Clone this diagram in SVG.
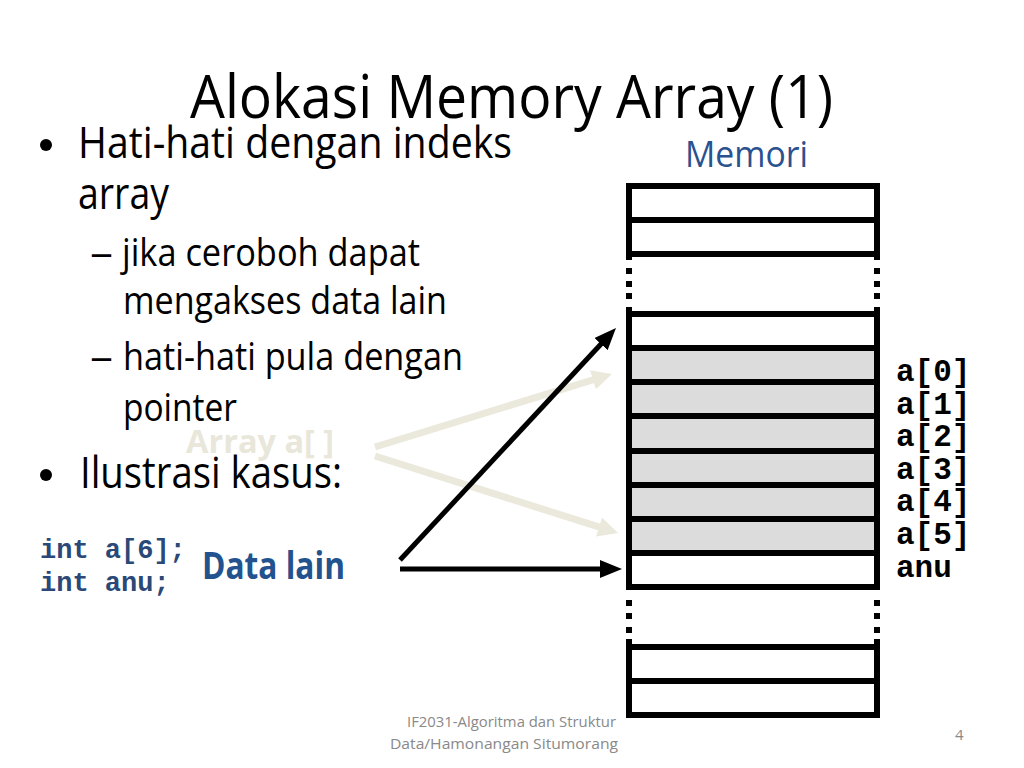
<svg xmlns="http://www.w3.org/2000/svg" width="1024" height="768" viewBox="0 0 1024 768">
<style>
.sans{font-family:"Open Sans","Noto Sans","Liberation Sans",sans-serif;}
.mono{font-family:"Liberation Mono","DejaVu Sans Mono",monospace;font-weight:bold;}
.body{font-size:43px;fill:#000;}
.sub{font-size:38px;fill:#000;}
.lbl{font-size:31px;fill:#000;}
.code{font-size:27px;fill:#2a4878;}
.foot{font-size:15px;fill:#898989;}
.hl{stroke:#000;stroke-width:6;fill:none;}
.vb{fill:#000;}
.cell{fill:#dcdcdc;}
</style>
<defs>
<marker id="ahB" markerUnits="userSpaceOnUse" markerWidth="22" markerHeight="18" refX="10" refY="9" orient="auto" viewBox="0 0 22 18"><path d="M0,0 L22,9 L0,18 z" fill="#000"/></marker>
<marker id="ahL" markerUnits="userSpaceOnUse" markerWidth="20" markerHeight="20" refX="8" refY="10" orient="auto" viewBox="0 0 20 20"><path d="M0,0 L20,10 L0,20 z" fill="#ebe8dc"/></marker>
</defs>
<rect width="1024" height="768" fill="#fff"/>
<g id="title"><text class="sans" x="190" y="118" font-size="60" textLength="643" lengthAdjust="spacingAndGlyphs">Alokasi Memory Array (1)</text></g>
<g id="bullets" class="sans">
<circle cx="46" cy="145" r="6" fill="#000"/>
<text class="body" x="78" y="158" textLength="434" lengthAdjust="spacingAndGlyphs">Hati-hati dengan indeks</text>
<text class="body" x="78" y="209" textLength="91" lengthAdjust="spacingAndGlyphs">array</text>
<text class="sub" x="90" y="266" textLength="23" lengthAdjust="spacingAndGlyphs">–</text>
<text class="sub" x="122" y="266" textLength="298" lengthAdjust="spacingAndGlyphs">jika ceroboh dapat</text>
<text class="sub" x="123" y="314" textLength="324" lengthAdjust="spacingAndGlyphs">mengakses data lain</text>
<text class="sub" x="90" y="370" textLength="23" lengthAdjust="spacingAndGlyphs">–</text>
<text class="sub" x="123" y="370" textLength="340" lengthAdjust="spacingAndGlyphs">hati-hati pula dengan</text>
<text class="sub" x="123" y="421" textLength="114" lengthAdjust="spacingAndGlyphs">pointer</text>
<circle cx="46" cy="475" r="6" fill="#000"/>
<text class="body" x="80" y="488" textLength="262" lengthAdjust="spacingAndGlyphs">Ilustrasi kasus:</text>
</g>
<g id="code">
<text class="mono code" x="40" y="558">int a[6];</text>
<text class="mono code" x="40" y="591">int anu;</text>
</g>
<g id="memori-label"><text class="sans" x="685" y="167" font-size="36" fill="#2a5190" textLength="123" lengthAdjust="spacingAndGlyphs">Memori</text></g>
<g id="array-label"><text class="sans" x="186" y="453" font-size="32" font-weight="bold" fill="#e9e6da" textLength="148" lengthAdjust="spacingAndGlyphs">Array a[ ]</text></g>
<g id="datalain-label"><text class="sans" x="202" y="579" font-size="37" font-weight="bold" fill="#23538f" textLength="143" lengthAdjust="spacingAndGlyphs">Data lain</text></g>
<g id="connectors">
<line x1="375" y1="447" x2="600.5" y2="377.5" stroke="#ebe8dc" stroke-width="7" marker-end="url(#ahL)"/>
<line x1="375" y1="456" x2="606.6" y2="529.4" stroke="#ebe8dc" stroke-width="7" marker-end="url(#ahL)"/>
<line x1="400" y1="560" x2="607.8" y2="336.8" stroke="#000" stroke-width="5" marker-end="url(#ahB)"/>
<line x1="400" y1="569" x2="610" y2="569" stroke="#000" stroke-width="5" marker-end="url(#ahB)"/>
</g>
<g id="memory">
<rect class="cell" x="629" y="348" width="248" height="205"/>
<g class="hl">
<line x1="626" y1="186" x2="880" y2="186"/>
<line x1="626" y1="220" x2="880" y2="220"/>
<line x1="626" y1="254" x2="880" y2="254"/>
<line x1="626" y1="314" x2="880" y2="314"/>
<line x1="626" y1="348" x2="880" y2="348"/>
<line x1="626" y1="382" x2="880" y2="382"/>
<line x1="626" y1="416" x2="880" y2="416"/>
<line x1="626" y1="451" x2="880" y2="451"/>
<line x1="626" y1="485" x2="880" y2="485"/>
<line x1="626" y1="519" x2="880" y2="519"/>
<line x1="626" y1="553" x2="880" y2="553"/>
<line x1="626" y1="587" x2="880" y2="587"/>
<line x1="626" y1="647" x2="880" y2="647"/>
<line x1="626" y1="681" x2="880" y2="681"/>
<line x1="626" y1="715" x2="880" y2="715"/>
</g>
<g class="vb">
<rect x="626" y="183" width="6" height="77"/>
<rect x="874" y="183" width="6" height="77"/>
<rect x="626" y="268" width="6" height="6"/><rect x="874" y="268" width="6" height="6"/>
<rect x="626" y="281" width="6" height="6"/><rect x="874" y="281" width="6" height="6"/>
<rect x="626" y="293" width="6" height="6"/><rect x="874" y="293" width="6" height="6"/>
<rect x="626" y="307" width="6" height="283"/>
<rect x="874" y="307" width="6" height="283"/>
<rect x="626" y="600" width="6" height="6"/><rect x="874" y="600" width="6" height="6"/>
<rect x="626" y="613" width="6" height="6"/><rect x="874" y="613" width="6" height="6"/>
<rect x="626" y="627" width="6" height="6"/><rect x="874" y="627" width="6" height="6"/>
<rect x="626" y="639" width="6" height="79"/>
<rect x="874" y="639" width="6" height="79"/>
</g>
</g>
<g id="cell-labels">
<text class="mono lbl" x="896" y="381">a[0]</text>
<text class="mono lbl" x="896" y="414">a[1]</text>
<text class="mono lbl" x="896" y="446">a[2]</text>
<text class="mono lbl" x="896" y="479">a[3]</text>
<text class="mono lbl" x="896" y="511">a[4]</text>
<text class="mono lbl" x="896" y="544">a[5]</text>
<text class="mono lbl" x="896" y="577">anu</text>
</g>
<g id="footer" class="sans">
<text class="foot" x="407" y="727" textLength="209" lengthAdjust="spacingAndGlyphs">IF2031-Algoritma dan Struktur</text>
<text class="foot" x="390" y="749" textLength="228" lengthAdjust="spacingAndGlyphs">Data/Hamonangan Situmorang</text>
<text class="foot" x="955" y="740">4</text>
</g>
</svg>
